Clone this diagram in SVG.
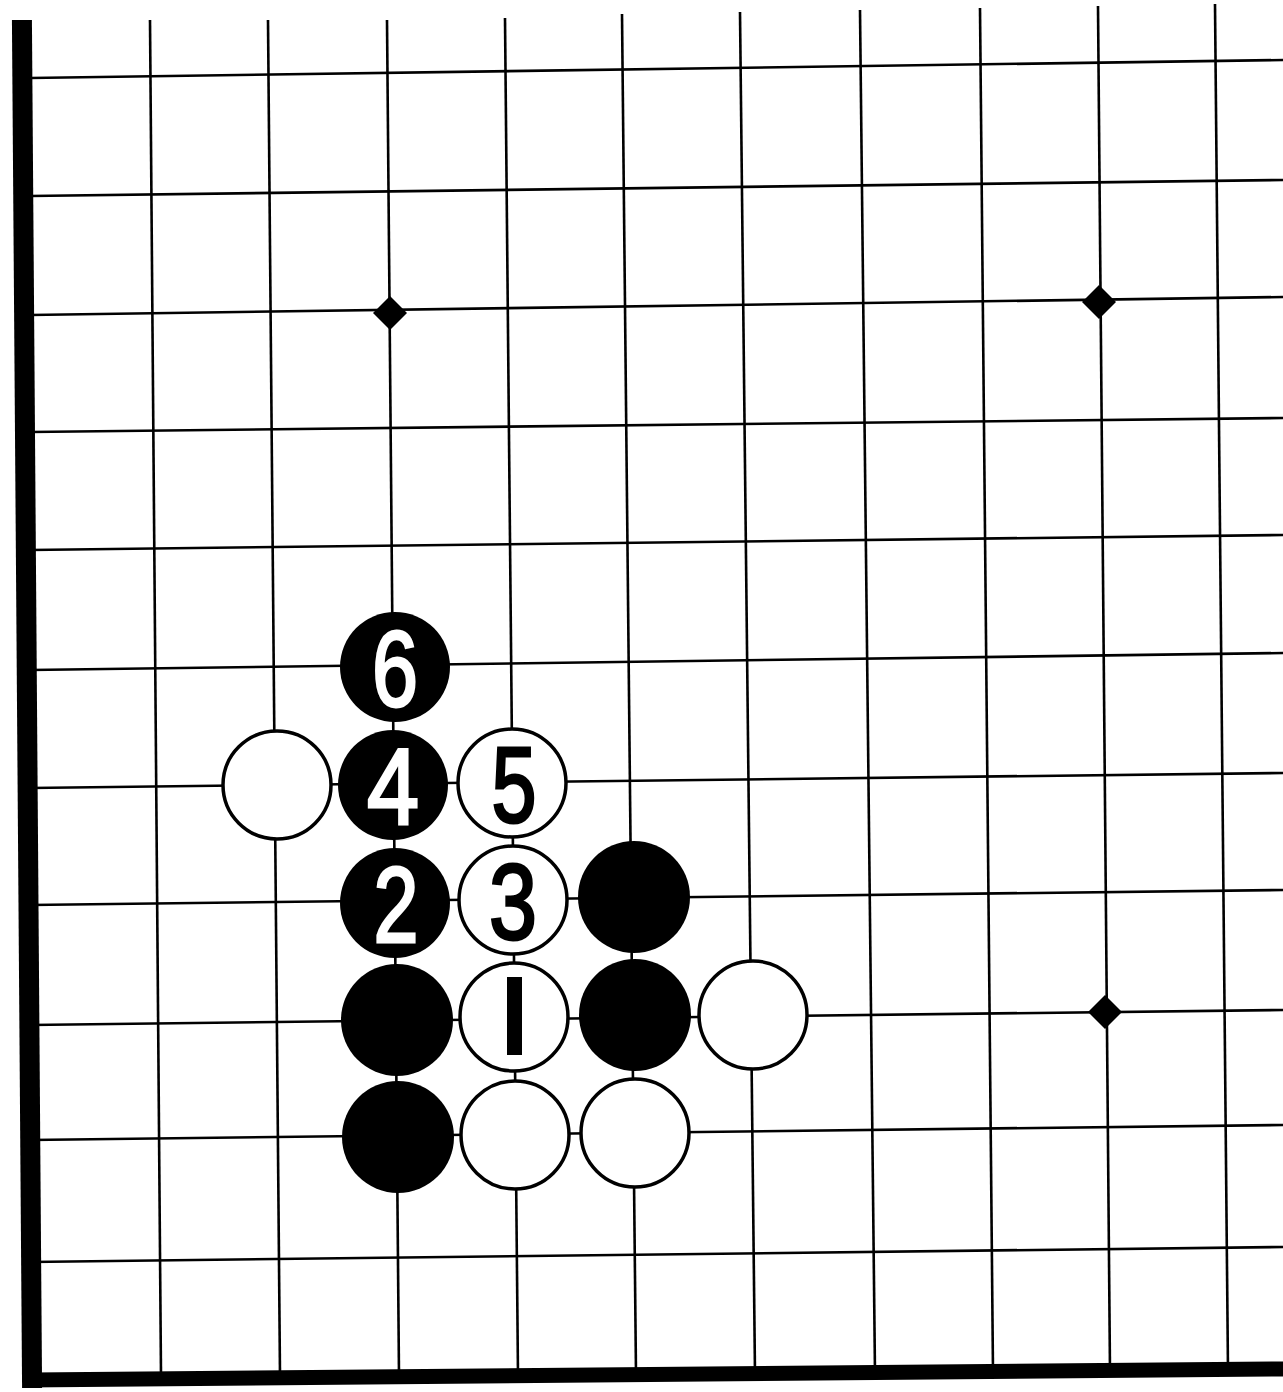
<svg xmlns="http://www.w3.org/2000/svg" width="1283" height="1392" viewBox="0 0 1283 1392">
<style>
.g{stroke:#000;stroke-width:2.6;fill:none}
.edge{stroke:#000;fill:none;stroke-linecap:square}
.b{fill:#000}
.w{fill:#fff;stroke:#000;stroke-width:3.5}
.nb{fill:#fff;stroke:#fff;stroke-width:3;font-family:"Liberation Sans",Arial,sans-serif;font-size:108px;text-anchor:middle}
.nw{fill:#000;stroke:#000;stroke-width:3;font-family:"Liberation Sans",Arial,sans-serif;font-size:108px;text-anchor:middle}
.star{fill:#000}
</style>
<rect width="1283" height="1392" fill="#fff"/>
<g id="grid">
<line class="g" x1="150" y1="20" x2="161" y2="1376"/>
<line class="g" x1="268" y1="20" x2="280" y2="1376"/>
<line class="g" x1="387" y1="20" x2="399" y2="1376"/>
<line class="g" x1="505" y1="18" x2="518" y2="1376"/>
<line class="g" x1="622" y1="14" x2="636" y2="1374"/>
<line class="g" x1="740" y1="12" x2="755" y2="1374"/>
<line class="g" x1="860" y1="10" x2="875" y2="1374"/>
<line class="g" x1="980" y1="8" x2="993" y2="1372"/>
<line class="g" x1="1098" y1="6" x2="1110" y2="1372"/>
<line class="g" x1="1215" y1="4" x2="1228" y2="1372"/>
<line class="g" x1="30" y1="78" x2="1283" y2="60"/>
<line class="g" x1="30" y1="196" x2="1283" y2="180"/>
<line class="g" x1="30" y1="315" x2="1283" y2="297"/>
<line class="g" x1="30" y1="432" x2="1283" y2="418"/>
<line class="g" x1="30" y1="550" x2="1283" y2="535"/>
<line class="g" x1="30" y1="670" x2="1283" y2="653"/>
<line class="g" x1="30" y1="788" x2="1283" y2="773"/>
<line class="g" x1="30" y1="905" x2="1283" y2="890"/>
<line class="g" x1="30" y1="1025" x2="1283" y2="1010"/>
<line class="g" x1="30" y1="1140" x2="1283" y2="1125"/>
<line class="g" x1="30" y1="1262" x2="1283" y2="1247"/>
<line class="edge" x1="22" y1="30" x2="32" y2="1378" stroke-width="20"/>
<line class="edge" x1="32" y1="1380" x2="1283" y2="1369" stroke-width="15"/>
</g>
<g id="stars">
<polygon class="star" points="390,296 407,313 390,330 373,313"/>
<polygon class="star" points="1099,285 1116,302 1099,319 1082,302"/>
<polygon class="star" points="1105,995 1122,1012 1105,1029 1088,1012"/>
</g>
<g id="b6"><circle class="b" cx="395" cy="667" r="55"/><text class="nb" x="395" y="706" textLength="46" lengthAdjust="spacingAndGlyphs">6</text></g>
<g id="w-277-785"><circle class="w" cx="277" cy="785" r="54"/></g>
<g id="b4"><circle class="b" cx="393" cy="785" r="55"/><text class="nb" x="393" y="824" textLength="52" lengthAdjust="spacingAndGlyphs">4</text></g>
<g id="w5"><circle class="w" cx="512" cy="783" r="54"/><text class="nw" x="514" y="822" textLength="45" lengthAdjust="spacingAndGlyphs">5</text></g>
<g id="b2"><circle class="b" cx="395" cy="903" r="55"/><text class="nb" x="396" y="942" textLength="45" lengthAdjust="spacingAndGlyphs">2</text></g>
<g id="w3"><circle class="w" cx="513" cy="900" r="54"/><text class="nw" x="513" y="939" textLength="48" lengthAdjust="spacingAndGlyphs">3</text></g>
<g id="b-634-897"><circle class="b" cx="634" cy="897" r="56"/></g>
<g id="b-397-1020"><circle class="b" cx="397" cy="1020" r="56"/></g>
<g id="w1"><circle class="w" cx="514" cy="1017" r="54"/><rect class="b" x="507" y="977" width="15" height="78"/></g>
<g id="b-635-1015"><circle class="b" cx="635" cy="1015" r="56"/></g>
<g id="w-753-1015"><circle class="w" cx="753" cy="1015" r="54"/></g>
<g id="b-398-1137"><circle class="b" cx="398" cy="1137" r="56"/></g>
<g id="w-515-1135"><circle class="w" cx="515" cy="1135" r="54"/></g>
<g id="w-635-1133"><circle class="w" cx="635" cy="1133" r="54"/></g>
</svg>
